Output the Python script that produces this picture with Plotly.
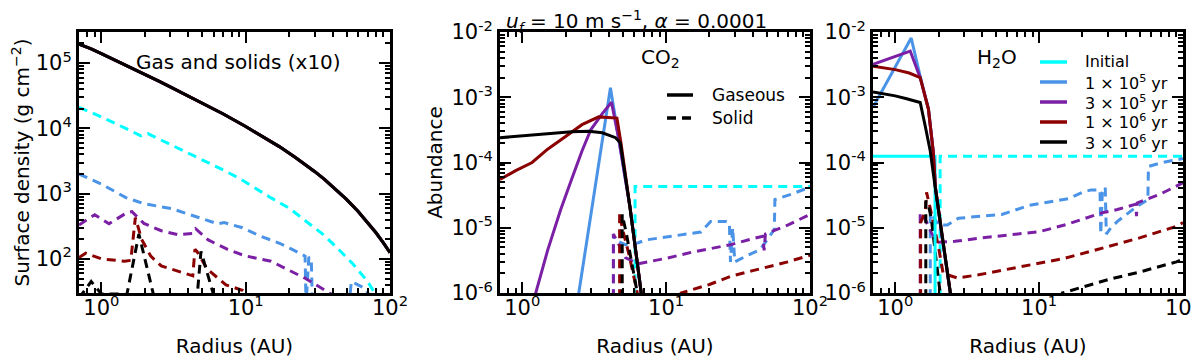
import numpy as np
import plotly.graph_objects as go

# ---- series labels / colours ----
time_labels = ["Initial", "1 × 10<sup>5</sup> yr", "3 × 10<sup>5</sup> yr",
               "1 × 10<sup>6</sup> yr", "3 × 10<sup>6</sup> yr"]
phase_labels = ["Gaseous", "Solid"]
colors = ["#00ffff", "#4a93e6", "#7b1fa5", "#8b0000", "#000000"]

# ---- left panel: surface density (g cm^-2) ----
r_gas = [0.7, 0.85, 1.0, 1.2, 1.5, 2.0, 2.5, 3.0, 4.0, 5.0, 7.0, 10, 13, 17, 22, 26, 30,
         35, 40, 45, 50, 60, 70, 80, 90, 100]
sig_gas = [1.95e5, 1.66e5, 1.4e5, 1.16e5, 9.15e4, 6.73e4, 5.29e4, 4.34e4, 3.16e4, 2.46e4,
           1.66e4, 1.07e4, 7.65e3, 5.3e3, 3.62e3, 2.78e3, 2.19e3, 1.67e3, 1.29e3, 1.02e3,
           815, 536, 363, 251, 176, 125]

sd_r_init = [0.7, 1.0, 1.5, 1.88, 2.1, 3.0, 5.0, 7.0, 9.1, 15, 20, 26, 35, 44, 55, 70, 80, 90]
sd_init = [2.1e4, 1.5e4, 9.8e3, 7.7e3, 8.3e3, 5.7e3, 3.3e3, 2.3e3, 1.7e3, 860, 600, 380,
           230, 140, 85, 45, 28, 18]
sd_r_1e5 = [0.7, 1.0, 1.48, 1.97, 3.06, 4.7, 6.4, 7.1, 9.5, 12.5, 17, 21, 23, 25.8, 26.2,
            27.4, 28.5, 29, 52, 54, 60, 66, 75]
sd_1e5 = [2000, 1400, 870, 700, 590, 430, 345, 360, 300, 225, 175, 140, 125, 110, 20,
          107, 95, 20, 20, 45, 40, 36, 25]
sd_r_3e5 = [0.7, 0.8, 0.9, 1.13, 1.5, 1.63, 1.97, 2.6, 3.4, 4.3, 4.5, 5.5, 7.5, 9.8, 15,
            26, 36, 45]
sd_3e5 = [330, 400, 475, 345, 510, 530, 350, 270, 235, 245, 290, 195, 140, 112, 92, 50, 32, 24]
sd_r_1e6 = [0.7, 0.78, 1.0, 1.45, 1.6, 1.72, 1.9, 2.2, 2.6, 3.6, 4.3, 4.45, 4.6, 5.4, 7.3,
            9.5, 11]
sd_1e6 = [105, 122, 100, 92, 95, 430, 200, 110, 78, 63, 55, 140, 130, 70, 40, 33, 25]
sd_r_3e6 = [0.7, 0.85, 1.0, 1.3, 1.5, 1.82, 2.3, 4.6, 4.9, 6.0]
sd_3e6 = [25, 45, 29, 29, 28, 240, 28, 25, 130, 28]

# ---- middle panel: CO2 abundance ----
co2g_r_1e5 = [2.3, 2.47, 3.0, 3.5, 4.1, 4.7, 5.6, 6.8]
co2g_1e5 = [3e-7, 1e-6, 1.6e-5, 1.45e-4, 1.4e-3, 2.2e-4, 2.1e-5, 8e-7]
co2g_r_3e5 = [1.1, 1.24, 1.5, 1.85, 2.2, 2.6, 3.0, 3.6, 4.17, 4.7, 5.6, 6.8]
co2g_3e5 = [2e-7, 1e-6, 4.5e-6, 1.9e-5, 5.5e-5, 1.5e-4, 3.2e-4, 5.6e-4, 8.4e-4, 2.2e-4,
            2.1e-5, 8e-7]
co2g_r_1e6 = [0.7, 0.9, 1.17, 1.5, 2.0, 2.6, 3.4, 4.55, 4.85, 5.6, 6.8]
co2g_1e6 = [5.5e-5, 7.5e-5, 1e-4, 1.6e-4, 2.5e-4, 3.8e-4, 5e-4, 4.8e-4, 2e-4, 2.1e-5, 8e-7]
co2g_r_3e6 = [0.7, 1.0, 1.5, 2.2, 2.9, 3.6, 4.45, 4.8, 5.6, 6.8]
co2g_3e6 = [2.4e-4, 2.55e-4, 2.75e-4, 2.95e-4, 3e-4, 2.85e-4, 2.4e-4, 2e-4, 2.1e-5, 8e-7]

co2s_r_init = [6.08, 6.08, 100]
co2s_init = [1e-7, 4.3e-5, 4.3e-5]
co2s_r_1e5 = [4.3, 4.3, 4.4, 5.2, 6.4, 7.2, 10, 14, 17.4, 20.4, 26, 27.5, 28, 29, 30, 37,
              45, 56.5, 57, 75, 100]
co2s_1e5 = [1e-7, 8e-6, 6.5e-6, 5.5e-6, 5.9e-6, 6.5e-6, 7.2e-6, 8e-6, 8.6e-6, 1.25e-5,
            1.25e-5, 1.2e-5, 3e-6, 1e-5, 3e-6, 3.8e-6, 4.6e-6, 9.4e-6, 2.7e-5, 3.3e-5, 4.2e-5]
co2s_r_3e5 = [4.3, 4.3, 4.6, 5.2, 6.4, 10, 15, 20, 28, 40, 47, 48, 49, 70, 100]
co2s_3e5 = [1e-7, 8e-6, 6e-6, 3.5e-6, 2.8e-6, 3.4e-6, 4.2e-6, 4.8e-6, 5.5e-6, 6.8e-6,
            7.4e-6, 4.5e-6, 8e-6, 1.1e-5, 1.6e-5]
co2s_r_1e6 = [4.75, 4.75, 4.95, 5.5, 6.2, 7.0, 9.0, 12.7, 20, 28, 40, 70, 100]
co2s_1e6 = [1e-7, 1.7e-5, 1e-5, 4e-6, 1.2e-6, 3e-7, 2e-7, 1e-6, 1.35e-6, 1.8e-6, 2.2e-6,
            3e-6, 3.8e-6]
co2s_r_3e6 = [4.95, 4.95, 5.3, 5.8, 6.3, 6.8]
co2s_3e6 = [1e-7, 1.6e-5, 8e-6, 2.5e-6, 1e-6, 4e-7]

# ---- right panel: H2O abundance ----
h2og_r_init = [0.7, 1.89, 1.89]
h2og_init = [1.25e-4, 1.25e-4, 1e-7]
h2og_r_1e5 = [0.7, 1.29, 1.49, 1.7, 1.84, 1.9, 2.1, 2.45]
h2og_1e5 = [7e-4, 8.1e-3, 2.1e-3, 6.6e-4, 1.4e-4, 4.2e-5, 8e-6, 8e-7]
h2og_r_3e5 = [0.7, 1.27, 1.49, 1.7, 1.84, 1.9, 2.1, 2.45]
h2og_3e5 = [3.2e-3, 5.1e-3, 2e-3, 6.6e-4, 1.4e-4, 4.2e-5, 8e-6, 8e-7]
h2og_r_1e6 = [0.7, 1.0, 1.25, 1.49, 1.7, 1.84, 1.9, 2.1, 2.45]
h2og_1e6 = [3e-3, 2.65e-3, 2.35e-3, 2e-3, 6.6e-4, 1.4e-4, 4.2e-5, 8e-6, 8e-7]
h2og_r_3e6 = [0.7, 0.8, 1.0, 1.2, 1.49, 1.62, 1.75, 1.9, 2.1, 2.45]
h2og_3e6 = [1.2e-3, 1.15e-3, 1.05e-3, 9.5e-4, 8.3e-4, 3.5e-4, 1.5e-4, 4e-5, 8e-6, 8e-7]

h2os_r_init = [2.05, 2.05, 100]
h2os_init = [1e-7, 1.25e-4, 1.25e-4]
h2os_r_1e5 = [1.75, 1.75, 2.0, 2.3, 2.75, 4, 5.5, 6.5, 8.5, 12, 16, 20, 23, 26.5, 26.8,
              27.5, 28.8, 29.3, 31, 35, 47.5, 57, 57.5, 72, 90, 100]
h2os_1e5 = [1e-7, 1.7e-5, 1.1e-5, 1.1e-5, 1.4e-5, 1.5e-5, 1.6e-5, 1.8e-5, 2.2e-5, 2.5e-5,
            2.8e-5, 3.5e-5, 3.8e-5, 3.8e-5, 8e-6, 3.5e-5, 4.2e-5, 8e-6, 9.5e-6, 1.25e-5,
            2.1e-5, 2.7e-5, 8.7e-5, 1e-4, 1.1e-4, 1.15e-4]
h2os_r_3e5 = [1.49, 1.49, 1.6, 1.8, 2.0, 2.6, 4, 7, 10, 15, 20, 27.5, 35, 47, 47.5, 48, 70, 100]
h2os_3e5 = [1e-7, 1.7e-5, 1.4e-5, 8e-6, 6e-6, 6.2e-6, 7e-6, 8e-6, 8.7e-6, 1.1e-5, 1.35e-5,
            1.7e-5, 1.9e-5, 2.3e-5, 1.5e-5, 2.4e-5, 3.3e-5, 4.9e-5]
h2os_r_1e6 = [1.5, 1.5, 1.62, 1.65, 1.8, 2.0, 2.15, 2.7, 3.8, 8.5, 15, 25, 50, 90, 100]
h2os_1e6 = [1e-7, 1.2e-5, 1.8e-5, 3.5e-5, 1.5e-5, 5e-6, 2e-6, 1.7e-6, 1.9e-6, 2.7e-6,
            3.4e-6, 4.6e-6, 7e-6, 1.05e-5, 1.2e-5]
h2os_r_3e6 = [1.63, 1.63, 1.7, 1.78, 1.9, 2.05, 3.0, 10, 14.5, 19, 30, 50, 90, 100]
h2os_3e6 = [1e-7, 2.6e-5, 2.2e-5, 1.4e-5, 4e-6, 1e-6, 1e-8, 1e-8, 1e-6, 1.2e-6, 1.6e-6,
            2.1e-6, 3e-6, 3.3e-6]

DASH = "9px,6px"
fig = go.Figure()


def add(r, v, color, ax, dash="solid"):
    fig.add_trace(go.Scatter(
        x=r, y=v, mode="lines", line=dict(color=color, width=3, dash=dash),
        xaxis="x" + ax, yaxis="y" + ax, showlegend=False, hoverinfo="skip"))


# left panel: solids (dashed) then gas (solid)
left_solids = [(sd_r_init, sd_init), (sd_r_1e5, sd_1e5), (sd_r_3e5, sd_3e5),
               (sd_r_1e6, sd_1e6), (sd_r_3e6, sd_3e6)]
for (r, v), c in zip(left_solids, colors):
    add(r, v, c, "", DASH)
for c in colors[1:]:
    add(r_gas, sig_gas, c, "")

# middle panel
mid_solids = [(co2s_r_init, co2s_init), (co2s_r_1e5, co2s_1e5), (co2s_r_3e5, co2s_3e5),
              (co2s_r_1e6, co2s_1e6), (co2s_r_3e6, co2s_3e6)]
for (r, v), c in zip(mid_solids, colors):
    add(r, v, c, "2", DASH)
mid_gas = [(co2g_r_1e5, co2g_1e5), (co2g_r_3e5, co2g_3e5),
           (co2g_r_1e6, co2g_1e6), (co2g_r_3e6, co2g_3e6)]
for (r, v), c in zip(mid_gas, colors[1:]):
    add(r, v, c, "2")

# right panel
right_solids = [(h2os_r_init, h2os_init), (h2os_r_1e5, h2os_1e5), (h2os_r_3e5, h2os_3e5),
                (h2os_r_1e6, h2os_1e6), (h2os_r_3e6, h2os_3e6)]
for (r, v), c in zip(right_solids, colors):
    add(r, v, c, "3", DASH)
right_gas = [(h2og_r_init, h2og_init), (h2og_r_1e5, h2og_1e5), (h2og_r_3e5, h2og_3e5),
             (h2og_r_1e6, h2og_1e6), (h2og_r_3e6, h2og_3e6)]
for (r, v), c in zip(right_gas, colors):
    add(r, v, c, "3")

# ---- axes ----
W, H = 1200, 359
OFF = 8  # the page body margin shifts the figure by 8 px
FONT = "DejaVu Sans"
x_ticks = [1, 10, 100]
x_minor = [k * 10.0 ** e for e in (-1, 0, 1) for k in range(2, 10)]


def fx(p):
    return (p - OFF) / W


def fy(p):
    return 1 - (p - OFF) / H


def common(domain, anchor):
    return dict(type="log", domain=domain, anchor=anchor, showgrid=False, zeroline=False,
                showline=True, linewidth=3, linecolor="black", mirror="allticks",
                ticks="inside", ticklen=11, tickwidth=2, tickcolor="black",
                tickfont=dict(size=21, color="black"), tickmode="array",
                automargin=False)


def xaxis(a, b, anchor):
    d = common([fx(a), fx(b)], anchor)
    d.update(range=[np.log10(0.7), 2], tickvals=x_ticks,
             ticktext=[f"10<sup>{int(np.log10(t))}</sup>" for t in x_ticks],
             ticklabelstandoff=-6,
             minor=dict(tickmode="array", tickvals=x_minor, ticks="inside",
                        ticklen=5, tickwidth=1.5, tickcolor="black"),
             title=dict(text="Radius (AU)", font=dict(size=20), standoff=20))
    return d


def yaxis(anchor, lo, hi, title=None):
    d = common([fy(293), fy(32)], anchor)
    exps = list(range(lo, hi + 1))
    minor = [k * 10.0 ** e for e in range(lo - 1, hi + 1) for k in range(2, 10)]
    d.update(tickvals=[10.0 ** e for e in exps],
             ticktext=[f"10<sup>{e}</sup>" for e in exps],
             minor=dict(tickmode="array", tickvals=minor, ticks="inside",
                        ticklen=5, tickwidth=1.5, tickcolor="black"))
    if title:
        d["title"] = dict(text=title, font=dict(size=20), standoff=4)
    return d


left_y = yaxis("x", 2, 5, "Surface density (g cm<sup>−2</sup>)")
left_y["range"] = [np.log10(30), np.log10(3e5)]
mid_y = yaxis("x2", -6, -2, "Abundance")
mid_y["range"] = [-6, -2]
right_y = yaxis("x3", -6, -2)
right_y["range"] = [-6, -2]


def note(text, x, y, size=20, anchor="center"):
    return dict(text=text, x=fx(x), y=fy(y), xref="paper", yref="paper",
                xanchor=anchor, yanchor="middle", showarrow=False,
                font=dict(size=size))


def handle(x0, x1, y, color, dash="solid"):
    return dict(type="line", xref="paper", yref="paper", x0=fx(x0), x1=fx(x1),
                y0=fy(y), y1=fy(y), line=dict(color=color, width=3.5, dash=dash))


annotations = [
    note("<i>u<sub>f</sub></i> = 10 m s<sup>−1</sup>, <i>α</i> = 0.0001", 636, 22),
    note("Gas and solids (x10)", 238, 62),
    note("CO<sub>2</sub>", 660, 58),
    note("H<sub>2</sub>O", 997, 58),
]
shapes = []

# legend for the time series (right panel)
time_rows = [62, 82, 102, 122, 142]
for lab, c, y in zip(time_labels, colors, time_rows):
    shapes.append(handle(1040, 1067, y, c))
    annotations.append(note(lab, 1083, y, size=16, anchor="left"))

# legend for gas / solid (middle panel)
phase_rows = [95, 118]
for lab, dash, y in zip(phase_labels, ["solid", DASH], phase_rows):
    shapes.append(handle(667, 693, y, "black", dash))
    annotations.append(note(lab, 710, y, size=17, anchor="left"))

fig.update_layout(
    width=W, height=H,
    margin=dict(l=0, r=0, t=0, b=0, autoexpand=False),
    paper_bgcolor="white", plot_bgcolor="white",
    font=dict(family=FONT, size=20, color="black"),
    showlegend=False,
    xaxis=xaxis(79, 390, "y"), yaxis=left_y,
    xaxis2=xaxis(500, 810, "y2"), yaxis2=mid_y,
    xaxis3=xaxis(873, 1183, "y3"), yaxis3=right_y,
    annotations=annotations,
    shapes=shapes,
)

fig.write_html("out.html")
